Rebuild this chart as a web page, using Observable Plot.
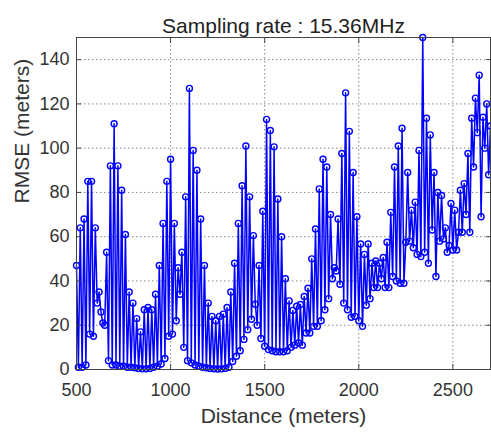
<!DOCTYPE html>
<html><head><meta charset="utf-8">
<script src="https://cdn.jsdelivr.net/npm/d3@7"></script>
<script src="https://cdn.jsdelivr.net/npm/@observablehq/plot@0.6"></script>
<style>
html,body{margin:0;padding:0;background:#fff;}
#chart svg{display:block;}
</style></head><body><div id="chart"></div>
<script>
const titleText = "Sampling rate : 15.36MHz";
const xLabel = "Distance (meters)";
const yLabel = "RMSE (meters)";
const xTicks = [500, 1000, 1500, 2000, 2500];
const yTicks = [0, 20, 40, 60, 80, 100, 120, 140];
// RMSE samples every 10 m from 500 m to 2700 m
const rmse = [
  47,1,64,1,68,2,85,16,85,15,
  64,30,35,26,21,20,53,4,92,2,
  111,2,92,1.5,81,1.5,61,1,35,1,
  30,0.8,23,0.5,17,0.3,27,0.3,28,0.5,
  27,1,34,1.5,47,2.5,66,5,85,15,
  95,16,66,22,46,34,53,10,78,4,
  127,3,99,2,90,1.5,68,1,47,0.8,
  30,0.5,24,0.3,22,0.2,24,0.3,25,0.5,
  28,1,35,3.6,48,6,66,8.5,83,13.6,
  101,18,78,22.7,60.5,29.5,20,47,14,71.5,
  10.5,113,9,108,8.5,100.6,8,77,8,60,
  8,41,8.5,31,10,26.7,11,28.6,12,29.4,
  11,33,16.5,36.7,16.5,50,19.5,63.5,19.5,81.6,
  22,95,27,91.5,32,70,41,46,44.5,68,
  38.5,97.6,30,125,27,107.6,23.6,89,24,69,
  22,56.7,19.5,52,29,56.7,32,48,37,49,
  37,48,41,50.6,37,57.5,37,71,42,91.5,
  40,101,39,109,39,57.5,89,58,72,55,
  75.6,52,99,51,150,53,113.5,48,106,63,
  89,42,80,58,78.6,59,64,53,56,75,
  54,72,54,62,81,62,84,70,97.6,62,
  113.5,91.5,122.6,107,133,69,114,100,120,88,
  110
];
const distance = d3.range(500, 2701, 10);
const data = distance.map((d, i) => ({distance: d, rmse: rmse[i]}));

const blue = "#0000ff";
const chart = Plot.plot({
  width: 491, height: 439,
  marginLeft: 76, marginRight: 1, marginTop: 37, marginBottom: 70,
  style: {fontFamily: "'Liberation Sans', Arial, sans-serif", fontSize: "18px", color: "#333", background: "#fff"},
  x: {domain: [500, 2700]},
  y: {domain: [0, 150]},
  marks: [
    Plot.gridX(xTicks, {stroke: "#888", strokeOpacity: 1, strokeDasharray: "1.5,2.5"}),
    Plot.gridY(yTicks, {stroke: "#888", strokeOpacity: 1, strokeDasharray: "1.5,2.5"}),
    Plot.line(data, {x: "distance", y: "rmse", stroke: blue, strokeWidth: 1.5}),
    Plot.dot(data, {x: "distance", y: "rmse", r: 3, stroke: blue, strokeWidth: 1.4, fill: "none"}),
    Plot.frame({stroke: "#444", strokeWidth: 1}),
    Plot.axisX(xTicks, {anchor: "bottom", tickSize: -5, tickPadding: 19, tickFormat: "d", label: null, fontSize: 18, stroke: "#444"}),
    Plot.axisX(xTicks, {anchor: "top", tickSize: -5, tickFormat: () => "", label: null, stroke: "#444"}),
    Plot.axisY(yTicks, {anchor: "left", tickSize: -5, tickPadding: 12, tickFormat: "d", label: null, fontSize: 18, stroke: "#444"}),
    Plot.axisY(yTicks, {anchor: "right", tickSize: -5, tickFormat: () => "", label: null, stroke: "#444"}),
    Plot.text([titleText], {frameAnchor: "top", dy: -19, fontSize: 21, fill: "#222"}),
    Plot.text([xLabel], {frameAnchor: "bottom", dy: 53, fontSize: 21, fill: "#333"}),
    Plot.text([yLabel], {frameAnchor: "left", dx: -54, rotate: -90, fontSize: 21, fill: "#333"})
  ]
});
document.getElementById("chart").appendChild(chart);
</script>
</body></html>
